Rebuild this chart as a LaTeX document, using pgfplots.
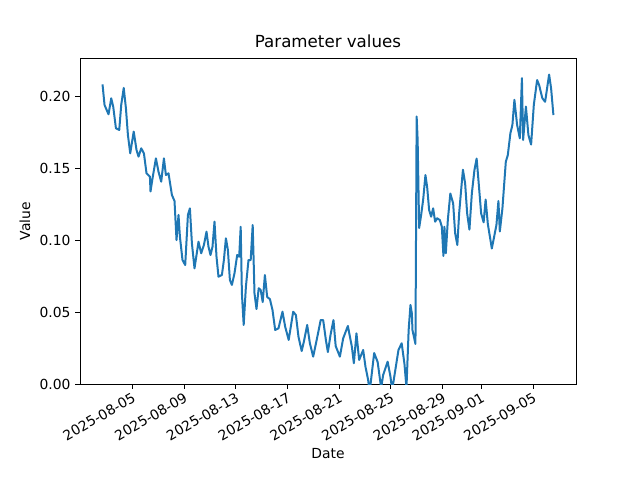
\documentclass[border=0pt]{standalone}
\usepackage{pgfplots}
\pgfplotsset{compat=1.18}
\usepackage{fontspec}
\setmainfont{DejaVu Sans}
\definecolor{tabblue}{HTML}{1F77B4}
\begin{document}
\begin{tikzpicture}
\begin{axis}[
  name=ax,
  scale only axis,
  width=372pt, height=244.5pt,
  xmin=0.96, xmax=39.33,
  ymin=0, ymax=0.2264,
  axis line style={line width=0.6pt},
  tick pos=left,
  tick align=outside,
  major tick length=3.65pt,
  every tick/.style={black, line width=0.6pt},
  xtick={5,9,13,17,21,25,29,32,36},
  xticklabels={2025-08-05,2025-08-09,2025-08-13,2025-08-17,2025-08-21,2025-08-25,2025-08-29,2025-09-01,2025-09-05},
  xticklabel style={rotate=30, anchor=north east, inner sep=1.5pt, font=\fontsize{10.4pt}{12pt}\selectfont},
  ytick={0,0.05,0.10,0.15,0.20},
  yticklabel style={/pgf/number format/fixed, /pgf/number format/fixed zerofill, /pgf/number format/precision=2, /pgf/number format/assume math mode=true, font=\fontsize{10.4pt}{12pt}\selectfont},
  scaled y ticks=false,
  xlabel={Date},
  ylabel={Value},
  xlabel style={font=\fontsize{10.4pt}{12pt}\selectfont},
  ylabel style={font=\fontsize{10.4pt}{12pt}\selectfont},
  title={Parameter values},
  title style={font=\fontsize{12.5pt}{14pt}\selectfont, yshift=-2pt},
]
\addplot[color=tabblue, line width=1.5pt, line join=round] coordinates {
(2.703,0.2081) (2.858,0.1938) (3.167,0.1873) (3.376,0.1984) (3.531,0.1926)
(3.739,0.1776) (3.995,0.1764) (4.149,0.1938) (4.343,0.2056) (4.513,0.1915)
(4.667,0.1729) (4.845,0.1602) (5.116,0.1753) (5.333,0.1625) (5.487,0.1579)
(5.696,0.1637) (5.905,0.1602) (6.106,0.1463) (6.369,0.1440) (6.415,0.1337)
(6.570,0.1428) (6.833,0.1567) (7.034,0.1474) (7.243,0.1405) (7.452,0.1567)
(7.606,0.1451) (7.807,0.1463) (8.070,0.1313) (8.272,0.1271) (8.426,0.1000)
(8.581,0.1174) (8.689,0.1023) (8.890,0.0861) (9.099,0.0826) (9.308,0.1174)
(9.462,0.1220) (9.617,0.0977) (9.818,0.0803) (10.128,0.0988) (10.336,0.0908)
(10.545,0.0965) (10.746,0.1058) (10.901,0.0953) (11.056,0.0896) (11.210,0.0953)
(11.365,0.1127) (11.520,0.0884) (11.674,0.0745) (11.937,0.0757) (12.092,0.0861)
(12.247,0.1012) (12.401,0.0931) (12.556,0.0722) (12.711,0.0688) (12.912,0.0769)
(13.121,0.0896) (13.275,0.0884) (13.391,0.1092) (13.484,0.0630) (13.623,0.0410)
(13.794,0.0676) (13.995,0.0861) (14.165,0.0861) (14.320,0.1104) (14.459,0.0630)
(14.613,0.0521) (14.784,0.0665) (14.938,0.0653) (15.093,0.0569) (15.263,0.0757)
(15.441,0.0604) (15.650,0.0590) (15.851,0.0514) (16.060,0.0375) (16.315,0.0387)
(16.625,0.0502) (16.833,0.0398) (17.104,0.0306) (17.452,0.0502) (17.661,0.0479)
(17.862,0.0328) (18.109,0.0229) (18.279,0.0294) (18.535,0.0410) (18.743,0.0283)
(18.999,0.0190) (19.270,0.0306) (19.579,0.0444) (19.772,0.0444) (19.981,0.0306)
(20.136,0.0222) (20.352,0.0347) (20.569,0.0444) (20.739,0.0264) (21.064,0.0190)
(21.319,0.0317) (21.682,0.0403) (21.991,0.0259) (22.146,0.0144) (22.347,0.0352)
(22.556,0.0167) (22.866,0.0236) (23.044,0.0120) (23.251,0.0028) (23.367,-0.0056)
(23.716,0.0215) (23.986,0.0153) (24.257,-0.0028) (24.412,0.0063) (24.760,0.0155)
(24.977,0.0051) (25.109,-0.0042) (25.596,0.0236) (25.844,0.0283) (26.061,0.0139)
(26.215,-0.0028) (26.385,0.0375) (26.524,0.0549) (26.633,0.0491) (26.679,0.0375)
(26.911,0.0278) (27.003,0.1858) (27.080,0.1694) (27.196,0.1083) (27.351,0.1174)
(27.505,0.1278) (27.683,0.1451) (27.814,0.1370) (27.969,0.1208) (28.124,0.1162)
(28.279,0.1220) (28.433,0.1127) (28.588,0.1151) (28.797,0.1139) (28.951,0.1092)
(29.075,0.0889) (29.152,0.1092) (29.261,0.0908) (29.415,0.1139) (29.609,0.1323)
(29.826,0.1255) (29.981,0.1047) (30.151,0.0965) (30.290,0.1185) (30.445,0.1347)
(30.584,0.1488) (30.754,0.1394) (30.909,0.1185) (31.087,0.1072) (31.273,0.1324)
(31.474,0.1486) (31.644,0.1566) (31.783,0.1417) (31.992,0.1185) (32.185,0.1123)
(32.340,0.1281) (32.510,0.1111) (32.819,0.0941) (33.175,0.1104) (33.329,0.1271)
(33.437,0.1059) (33.638,0.1219) (33.901,0.1544) (34.056,0.1590) (34.257,0.1743)
(34.411,0.1799) (34.566,0.1974) (34.775,0.1799) (34.984,0.1706) (35.146,0.2124)
(35.239,0.1694) (35.456,0.1927) (35.649,0.1729) (35.858,0.1663) (36.067,0.1938)
(36.322,0.2111) (36.477,0.2076) (36.732,0.1984) (36.941,0.1960) (37.250,0.2149)
(37.405,0.2053) (37.583,0.1868)
};
\end{axis}
\path (ax.south west) ++(-60pt,-72pt) rectangle ++(480pt,360pt);
\end{tikzpicture}
\end{document}
